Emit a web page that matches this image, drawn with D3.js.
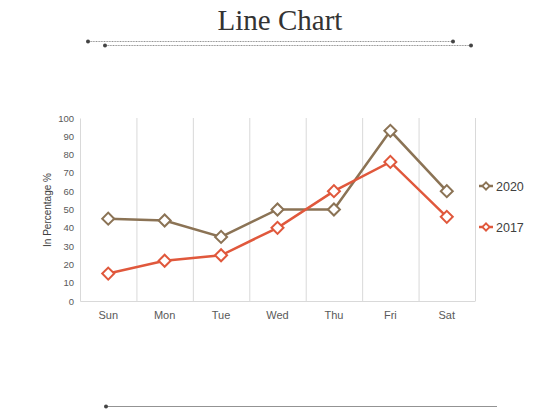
<!DOCTYPE html>
<html><head><meta charset="utf-8">
<script src="https://cdn.jsdelivr.net/npm/d3@7"></script>
<style>body{margin:0;background:#fff}</style></head>
<body><svg id="c" width="560" height="420"></svg>
<script>
const categories=["Sun","Mon","Tue","Wed","Thu","Fri","Sat"];
const s2020=[45,44,35,50,50,93,60];
const s2017=[15,22,25,40,60,76,46];
const yTicks=[0,10,20,30,40,50,60,70,80,90,100];
const seriesNames=["2020","2017"];
const colors=["#8B7355","#E0583C"];
const svg=d3.select("#c");
svg.append("text").attr("x",280).attr("y",30).attr("text-anchor","middle")
 .attr("font-family","Liberation Serif, DejaVu Serif, serif").attr("font-size",29).attr("fill","#333").text("Line Chart");
const deco=svg.append("g").attr("stroke","#777").attr("fill","#444");
deco.append("line").attr("x1",88).attr("y1",41.5).attr("x2",453).attr("y2",41.5).attr("stroke-width",0.8).attr("stroke-dasharray","1,0.6");
deco.append("line").attr("x1",105).attr("y1",45.5).attr("x2",471).attr("y2",45.5).attr("stroke-width",0.8).attr("stroke-dasharray","1,0.6");
deco.append("line").attr("x1",106).attr("y1",406.5).attr("x2",497).attr("y2",406.5).attr("stroke-width",0.8);
[[88,41.5],[453,41.5],[105,45.5],[471,45.5],[106,406.5]].forEach(p=>deco.append("circle").attr("cx",p[0]).attr("cy",p[1]).attr("r",2).attr("stroke","none"));
const x=d3.scaleBand().domain(categories).range([80,475]);
const y=d3.scaleLinear().domain([0,100]).range([301,118]);
const g=svg.append("g");
categories.slice(1).forEach(c=>g.append("line").attr("x1",x(c)+0.5).attr("x2",x(c)+0.5).attr("y1",118).attr("y2",301).attr("stroke","#d9d9d9"));
g.append("line").attr("x1",475.5).attr("x2",475.5).attr("y1",118).attr("y2",301).attr("stroke","#d9d9d9");
const ya=g.append("g").attr("transform","translate(80,0)").call(d3.axisLeft(y).tickValues(yTicks).tickSize(0).tickPadding(6));
ya.select(".domain").attr("stroke","#d9d9d9");
const xa=g.append("g").attr("transform","translate(0,301)").call(d3.axisBottom(x).tickSize(0).tickPadding(10));
xa.select(".domain").attr("stroke","#d9d9d9");
g.selectAll(".tick text").attr("font-family","Liberation Sans, Arial, sans-serif").attr("fill","#595959");
ya.selectAll("text").attr("font-size",9.5);
xa.selectAll("text").attr("font-size",11);
svg.append("text").attr("transform","translate(51,210) rotate(-90)").attr("text-anchor","middle")
 .attr("font-family","Liberation Sans, Arial, sans-serif").attr("font-size",10).attr("fill","#404040").text("In Percentage %");
const line=d3.line().x((d,i)=>x(categories[i])+x.bandwidth()/2).y(d=>y(d));
const diamond=d3.symbol().type(d3.symbolSquare).size(72);
[s2020,s2017].forEach((s,k)=>{
 svg.append("path").datum(s).attr("d",line).attr("fill","none").attr("stroke",colors[k]).attr("stroke-width",2.5);
 svg.selectAll(null).data(s).enter().append("path").attr("d",diamond)
  .attr("transform",(d,i)=>`translate(${x(categories[i])+x.bandwidth()/2},${y(d)}) rotate(45)`)
  .attr("fill","#fff").attr("stroke",colors[k]).attr("stroke-width",2);
 const ly=[186,227][k];
 svg.append("line").attr("x1",479).attr("x2",493).attr("y1",ly).attr("y2",ly).attr("stroke",colors[k]).attr("stroke-width",2.5);
 svg.append("path").attr("d",d3.symbol().type(d3.symbolSquare).size(26)).attr("transform",`translate(486,${ly}) rotate(45)`)
  .attr("fill","#fff").attr("stroke",colors[k]).attr("stroke-width",1.8);
 svg.append("text").attr("x",496).attr("y",ly+4.5).attr("font-family","Liberation Sans, Arial, sans-serif")
  .attr("font-size",12.5).attr("fill","#404040").text(seriesNames[k]);
});
</script></body></html>
